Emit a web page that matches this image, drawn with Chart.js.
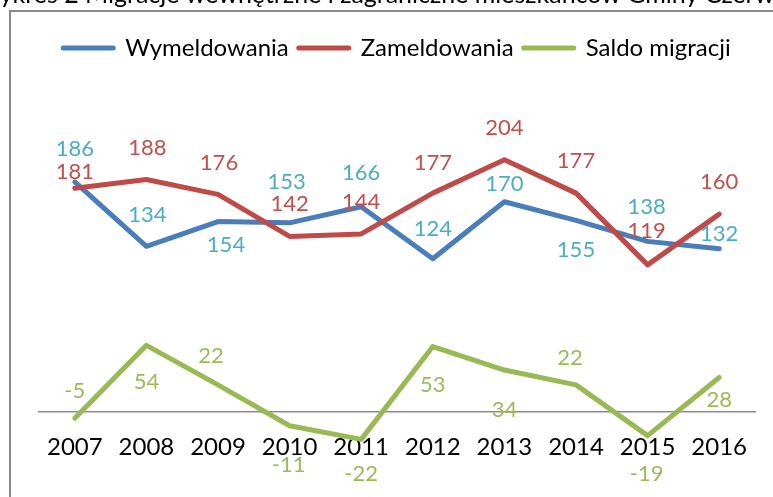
<!DOCTYPE html>
<html>
<head>
<meta charset="utf-8">
<script src="https://cdn.jsdelivr.net/npm/chart.js@4.4.1/dist/chart.umd.min.js"></script>
<style>
  html, body { margin: 0; padding: 0; background: #fff; }
  #wrap { width: 773px; height: 497px; overflow: hidden; }
</style>
</head>
<body>
<div id="wrap"><canvas id="chart" width="773" height="497"></canvas></div>
<script>
const titleText = 'Wykres 2 Migracje wewnętrzne i zagraniczne mieszkańców Gminy Czerwin';
const years = ['2007', '2008', '2009', '2010', '2011', '2012', '2013', '2014', '2015', '2016'];
const wymeldowania = [186, 134, 154, 153, 166, 124, 170, 155, 138, 132];
const zameldowania = [181, 188, 176, 142, 144, 177, 204, 177, 119, 160];
const saldo = [-5, 54, 22, -11, -22, 53, 34, 22, -19, 28];

// where each value label sits relative to its point (px)
const wymLabelDx = [0, 1, 8, -3, 0, 0, 0, 0, -1, 0];
const wymLabelDy = [-34, -32, 22, -42, -35, -31, -19, 29, -35, -16];
const zamLabelDx = [0, 1, 1, 0, 0, 0, 0, 0, -1, 0];
const zamLabelDy = [-17, -33, -32, -34, -33, -31, -33, -33, -35, -33];
const salLabelDx = [0, 0, -7, -1, 0, 0, 0, -6, -1, 0];
const salLabelDy = [-28, 36, -30, 38, 34, 37, 39, -28, 37, 21];

const FONT = 'Lato';
Chart.defaults.font.family = FONT;

const framePlugin = {
  id: 'frame',
  beforeDraw(chart) {
    const ctx = chart.ctx;
    ctx.save();
    ctx.fillStyle = '#fff';
    ctx.fillRect(0, 0, chart.width, chart.height);
    // title of the page, cut off at the top
    ctx.fillStyle = '#000';
    ctx.font = '20px ' + FONT;
    const w = ctx.measureText('ykres 2 Migracje wewnętrzne i zagraniczne mieszkańców Gminy Czerw').width;
    const size = 20 * 775 / w;
    ctx.font = size.toFixed(2) + 'px ' + FONT;
    ctx.textBaseline = 'alphabetic';
    ctx.fillText(titleText, -ctx.measureText('W').width, 3);
    // chart border
    ctx.strokeStyle = '#8a8a8a';
    ctx.lineWidth = 2;
    ctx.beginPath();
    ctx.moveTo(10, chart.height + 2);
    ctx.lineTo(10, 11);
    ctx.lineTo(chart.width + 2, 11);
    ctx.stroke();
    ctx.restore();
  }
};

const valueLabels = {
  id: 'valueLabels',
  afterDatasetsDraw(chart) {
    const ctx = chart.ctx;
    ctx.save();
    ctx.font = '22px ' + FONT;
    ctx.textAlign = 'center';
    ctx.textBaseline = 'middle';
    chart.data.datasets.forEach((ds, i) => {
      const meta = chart.getDatasetMeta(i);
      ctx.fillStyle = ds.labelColor;
      meta.data.forEach((pt, j) => {
        ctx.fillText(String(ds.data[j]), pt.x + ds.labelDx[j], pt.y + ds.labelDy[j] + 1);
      });
    });
    ctx.restore();
  }
};

new Chart(document.getElementById('chart'), {
  type: 'line',
  data: {
    labels: years,
    datasets: [
      {
        label: 'Wymeldowania',
        data: wymeldowania,
        borderColor: '#4a7ebb',
        labelColor: '#4bacc6',
        labelDx: wymLabelDx,
        labelDy: wymLabelDy,
        order: 3
      },
      {
        label: 'Zameldowania',
        data: zameldowania,
        borderColor: '#be4b48',
        labelColor: '#c0504d',
        labelDx: zamLabelDx,
        labelDy: zamLabelDy,
        order: 2
      },
      {
        label: 'Saldo migracji',
        data: saldo,
        borderColor: '#98b954',
        labelColor: '#9bbb59',
        labelDx: salLabelDx,
        labelDy: salLabelDy,
        order: 1
      }
    ]
  },
  options: {
    responsive: false,
    animation: false,
    devicePixelRatio: 1,
    layout: { padding: { left: 39, right: 18, top: 26, bottom: 23 } },
    elements: {
      line: { borderWidth: 5, tension: 0, borderCapStyle: 'round', borderJoinStyle: 'round', fill: false },
      point: { radius: 0, hoverRadius: 0 }
    },
    plugins: {
      legend: {
        display: true,
        position: 'top',
        labels: {
          usePointStyle: true,
          pointStyleWidth: 50,
          padding: 10,
          color: '#000',
          font: { size: 24, family: FONT },
          generateLabels: function(chart) {
            return chart.data.datasets.map((ds, i) => ({
              text: ds.label,
              fillStyle: ds.borderColor,
              strokeStyle: ds.borderColor,
              lineWidth: 5,
              lineCap: 'round',
              pointStyle: 'line',
              fontColor: '#000',
              hidden: false,
              datasetIndex: i
            }));
          }
        }
      },
      tooltip: { enabled: false }
    },
    scales: {
      x: {
        position: { y: 0 },
        offset: true,
        grid: { display: false, drawTicks: false, offset: true },
        border: { display: true, color: '#8c8c8c', width: 1.5 },
        ticks: { color: '#000', padding: 21, font: { size: 24, family: FONT }, maxRotation: 0 }
      },
      y: {
        display: false,
        min: -50,
        max: 276.5
      }
    }
  },
  plugins: [framePlugin, valueLabels]
});
</script>
</body>
</html>
